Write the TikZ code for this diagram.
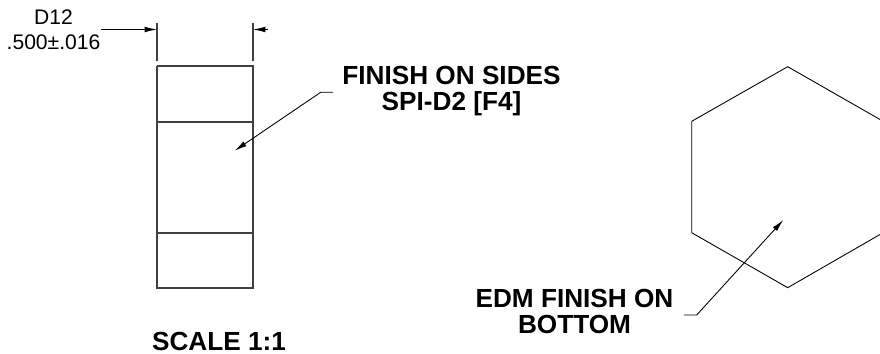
\documentclass[tikz,border=0pt]{standalone}
\usepackage{fontspec}
\setmainfont{Liberation Sans}
\usetikzlibrary{arrows.meta}
\tikzset{
	dimtip/.style={-{Latex[length=7pt,width=3.2pt]},line width=0.5pt},
	thinline/.style={line width=0.5pt},
	thickline/.style={line width=0.6pt,black!75},
	notelabel/.style={font=\bfseries\fontsize{14.9}{14.7}\selectfont,align=center,inner sep=0pt},
	dimlabel/.style={font=\fontsize{12}{14.2}\selectfont,align=center,inner sep=0pt}
}
\begin{document}
\begin{tikzpicture}[x=0.02cm,y=-0.02cm]
	\useasboundingbox (0,0) rectangle (880,354);

	\coordinate (r1) at (157,66);
	\coordinate (r2) at (253,66);
	\coordinate (r3) at (253,288);
	\coordinate (r4) at (157,288);
	\draw[thickline] (r1)--(r2)--(r3)--(r4)--(r1);
	\draw[thickline] (157,122)--(253,122);
	\draw[thickline] (157,233)--(253,233);

	\coordinate (e1) at (157,23);
	\coordinate (e2) at (157,61);
	\coordinate (e3) at (253,23);
	\coordinate (e4) at (253,61);
	\draw[thickline] (e1)--(e2);
	\draw[thickline] (e3)--(e4);

	\node (dim) [dimlabel] at (53.5,30) {D12\\.500±.016};
	\coordinate (d1) at (101,29.5);
	\coordinate (d2) at (157,29.5);
	\coordinate (d3) at (268,29.5);
	\coordinate (d4) at (253,29.5);
	\draw[dimtip] (d1)--(d2);
	\draw[dimtip] (d3)--(d4);

	\node (sides) [notelabel] at (451.5,91) {FINISH ON SIDES\\SPI-D2 [F4]};
	\coordinate (s1) at (333,92.3);
	\coordinate (s2) at (320.7,92.3);
	\coordinate (s3) at (234.7,150.7);
	\draw[dimtip] (s1)--(s2)--(s3);

	\coordinate (h1) at (787.7,66.7);
	\coordinate (h2) at (691.7,121.3);
	\coordinate (h3) at (691.7,232.7);
	\coordinate (h4) at (787.7,287.7);
	\coordinate (h5) at (880,234.5);
	\coordinate (h6) at (880,119.5);
	\draw[thinline] (h6)--(h1)--(h2)--(h3)--(h4)--(h5);

	\node (edm) [notelabel] at (574.5,311.5) {EDM FINISH ON\\BOTTOM};
	\coordinate (b1) at (684,315);
	\coordinate (b2) at (696.7,315);
	\coordinate (b3) at (783.3,220);
	\draw[dimtip] (b1)--(b2)--(b3);

	\node (scale) [notelabel] at (219,341.5) {SCALE 1:1};
\end{tikzpicture}
\end{document}
